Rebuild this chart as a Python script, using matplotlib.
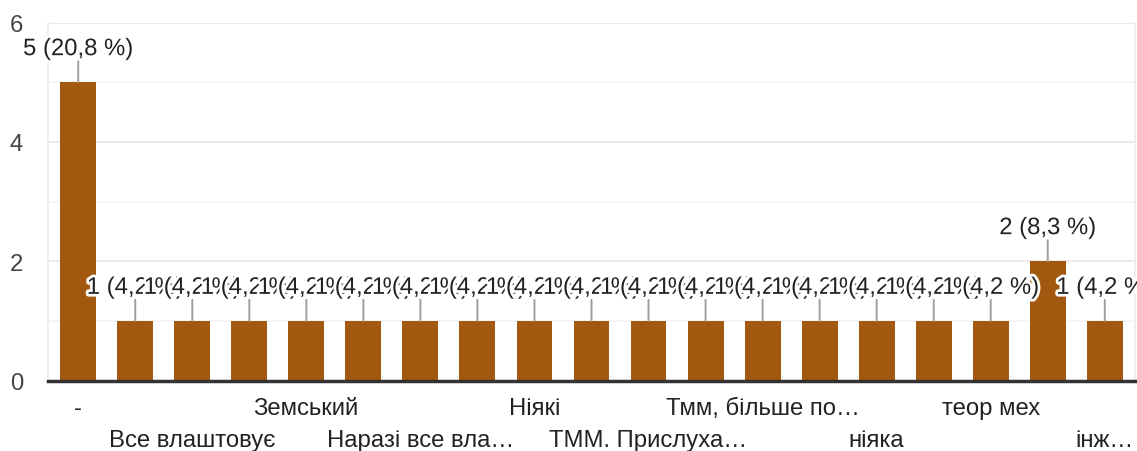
import matplotlib
matplotlib.use("Agg")
import matplotlib.pyplot as plt
import matplotlib.patheffects as pe
import matplotlib.transforms as mtransforms

plt.rcParams['font.family'] = ['Liberation Sans', 'DejaVu Sans']

values = [5, 1, 1, 1, 1, 1, 1, 1, 1, 1, 1, 1, 1, 1, 1, 1, 1, 2, 1]
labels = ["-", "", "Все влаштовує", "", "Земський", "", "Наразі все вла…", "",
          "Ніякі", "", "ТММ. Прислуха…", "", "Тмм, більше по…", "", "ніяка", "",
          "теор мех", "", "інж…"]
value_labels = ["5 (20,8 %)"] + ["1 (4,2 %)"] * 16 + ["2 (8,3 %)", "1 (4,2 %)"]
yticks = [0, 2, 4, 6]

W, H = 1137, 452
fig = plt.figure(figsize=(W / 100, H / 100), dpi=100)
ax = fig.add_axes([48 / W, (H - 381.5) / H, (1135 - 48) / W, (381.5 - 23.5) / H])

bar_color = '#a2590f'
FS = 17.2
x = list(range(len(values)))
ax.bar(x, values, width=0.63, color=bar_color, zorder=2)

ax.set_xlim(-0.53, len(values) - 0.47)
ax.set_ylim(0, 6)
ax.set_yticks(yticks)
ax.set_yticks([1, 3, 5], minor=True)
ax.grid(axis='y', which='major', color='#e8e8e8', linewidth=1.2, zorder=0)
ax.grid(axis='y', which='minor', color='#f3f3f3', linewidth=1.2, zorder=0)
ax.tick_params(axis='y', which='both', length=0, pad=18, labelsize=FS, labelcolor='#444444')
ax.set_xticks([])

for side in ['left', 'right', 'top']:
    ax.spines[side].set_color('#ececec')
    ax.spines[side].set_linewidth(1.2)
ax.spines['top'].set_visible(False)
ax.spines['bottom'].set_color('#333333')
ax.spines['bottom'].set_linewidth(2.5)
ax.spines['bottom'].set_zorder(5)

# category labels, alternating rows
trans = mtransforms.blended_transform_factory(ax.transData, ax.transAxes)
for i, lab in enumerate(labels):
    if not lab:
        continue
    row = (i // 2) % 2
    off = -28 if row == 0 else -60
    ax.annotate(lab, xy=(i, 0), xycoords=trans, xytext=(0, off), textcoords='offset pixels',
                ha='center', va='center', fontsize=FS, color='#222222', annotation_clip=False)

# value labels with leader lines
for i, (v, t) in enumerate(zip(values, value_labels)):
    ax.annotate('', xy=(i, v), xytext=(0, 21), textcoords='offset pixels',
                arrowprops=dict(arrowstyle='-', color='#9e9e9e', lw=1.4, shrinkA=0, shrinkB=0),
                zorder=3, annotation_clip=False)
    ax.annotate(t, xy=(i, v), xytext=(0, 33), textcoords='offset pixels',
                ha='center', va='center', fontsize=FS, color='#222222', zorder=4,
                annotation_clip=False,
                path_effects=[pe.withStroke(linewidth=4, foreground='white')])

fig.savefig('out.png', dpi=100)
